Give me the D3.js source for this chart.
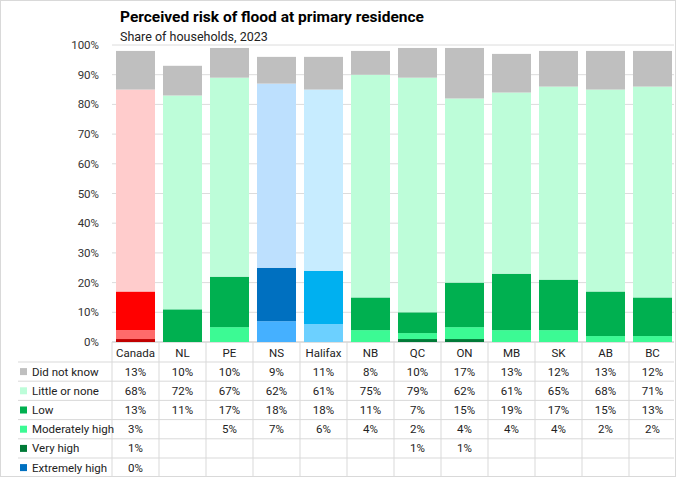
<!DOCTYPE html>
<html>
<head>
<script src="https://d3js.org/d3.v7.min.js"></script>
<style>
body { margin: 0; background: white; font-family: Roboto, Arial, sans-serif; }
</style>
</head>
<body>
<div id="chart"></div>
<script>
// data
const categories = ["Canada", "NL", "PE", "NS", "Halifax", "NB", "QC", "ON", "MB", "SK", "AB", "BC"];
const seriesNames = ["Did not know", "Little or none", "Low", "Moderately high", "Very high", "Extremely high"];
const didNotKnow     = [13, 10, 10, 9, 11, 8, 10, 17, 13, 12, 13, 12];
const littleOrNone   = [68, 72, 67, 62, 61, 75, 79, 62, 61, 65, 68, 71];
const low            = [13, 11, 17, 18, 18, 11, 7, 15, 19, 17, 15, 13];
const moderatelyHigh = [3, null, 5, 7, 6, 4, 2, 4, 4, 4, 2, 2];
const veryHigh       = [1, null, null, null, null, null, 1, 1, null, null, null, null];
const extremelyHigh  = [0, null, null, null, null, null, null, null, null, null, null, null];
const yTicks = [0, 10, 20, 30, 40, 50, 60, 70, 80, 90, 100];

const seriesValues = [didNotKnow, littleOrNone, low, moderatelyHigh, veryHigh, extremelyHigh];

// colours: default green set, some columns have their own
const legendColors = ["#bfbfbf", "#bdfdd9", "#00b050", "#3cfa94", "#007a37", "#0070c0"];
const specialColors = {
  "Canada":  ["#bfbfbf", "#ffcccc", "#ff0000", "#ff6b6b", "#c00000", "#0070c0"],
  "NS":      ["#bfbfbf", "#bde0fe", "#0070c0", "#45b0ff", "#004c87", "#0070c0"],
  "Halifax": ["#bfbfbf", "#c7ecff", "#00b0f0", "#6cd0ff", "#0088c0", "#0070c0"]
};
const colorFor = (cat, si) => (specialColors[cat] || legendColors)[si];

const width = 676, height = 477;
const marginLeft = 112, plotRight = 674, marginTop = 45, plotBottom = 342;

const rows = categories.map((c, i) => {
  const r = {cat: c};
  seriesNames.forEach((s, si) => r[s] = seriesValues[si][i] || 0);
  return r;
});

// stack from bottom (extremely high) to top (did not know)
const stackKeys = seriesNames.slice().reverse();
const stacked = d3.stack().keys(stackKeys)(rows);

const x = d3.scaleBand()
  .domain(categories)
  .range([marginLeft, 676])
  .paddingInner(0.17)
  .paddingOuter(0.085);

const y = d3.scaleLinear()
  .domain([0, 100])
  .range([plotBottom, marginTop]);

const svg = d3.create("svg")
  .attr("width", width)
  .attr("height", height)
  .attr("viewBox", [0, 0, width, height]);

// outer frame
svg.append("rect")
  .attr("x", 0.5).attr("y", 0.5)
  .attr("width", width - 1).attr("height", height - 1)
  .attr("fill", "white").attr("stroke", "#d9d9d9");

// title
svg.append("text")
  .attr("x", 120).attr("y", 22)
  .attr("font-size", 15.5).attr("font-weight", "bold").attr("fill", "#000")
  .text("Perceived risk of flood at primary residence");
svg.append("text")
  .attr("x", 120).attr("y", 41)
  .attr("font-size", 12.5).attr("fill", "#222")
  .text("Share of households, 2023");

// gridlines + y labels
svg.append("g")
  .selectAll("line")
  .data(yTicks)
  .join("line")
    .attr("x1", marginLeft).attr("x2", plotRight)
    .attr("y1", d => y(d)).attr("y2", d => y(d))
    .attr("stroke", d => d === 0 ? "#bfbfbf" : "#dcdcdc");

svg.append("g")
  .selectAll("text")
  .data(yTicks)
  .join("text")
    .attr("x", 99).attr("y", d => y(d) + 4)
    .attr("text-anchor", "end")
    .attr("font-size", 11.5).attr("fill", "#333")
    .text(d => d + "%");

// bars
stacked.forEach(layer => {
  const si = seriesNames.indexOf(layer.key);
  svg.append("g")
    .selectAll("rect")
    .data(layer.filter(d => d[1] > d[0]))
    .join("rect")
      .attr("x", d => x(d.data.cat))
      .attr("width", x.bandwidth())
      .attr("y", d => y(d[1]))
      .attr("height", d => y(d[0]) - y(d[1]))
      .attr("fill", d => colorFor(d.data.cat, si));
});

// data table under the chart
const rowTop = 362, rowH = 19.2;
const table = svg.append("g");
const step = x.step();
const colEdges = d3.range(categories.length + 1).map(i => marginLeft + i * step);

// vertical separators
table.selectAll("line.v")
  .data(colEdges.slice(0, -1))
  .join("line")
    .attr("x1", d => d).attr("x2", d => d)
    .attr("y1", plotBottom).attr("y2", height - 1)
    .attr("stroke", "#d9d9d9");

// horizontal separators
table.selectAll("line.h")
  .data(d3.range(seriesNames.length))
  .join("line")
    .attr("x1", 18).attr("x2", plotRight)
    .attr("y1", d => rowTop + d * rowH).attr("y2", d => rowTop + d * rowH)
    .attr("stroke", "#d9d9d9");

// header
table.selectAll("text.head")
  .data(categories)
  .join("text")
    .attr("x", d => x(d) + x.bandwidth() / 2)
    .attr("y", 357)
    .attr("text-anchor", "middle")
    .attr("font-size", 11.5).attr("fill", "#222")
    .text(d => d);

seriesNames.forEach((s, si) => {
  const cy = rowTop + si * rowH + rowH / 2;
  table.append("rect")
    .attr("x", 20).attr("y", cy - 3.5)
    .attr("width", 7).attr("height", 7)
    .attr("fill", legendColors[si]);
  table.append("text")
    .attr("x", 32).attr("y", cy + 4)
    .attr("font-size", 11.5).attr("fill", "#222")
    .text(s);
  table.append("g")
    .selectAll("text")
    .data(categories.map((c, i) => ({c, v: seriesValues[si][i]})).filter(d => d.v !== null))
    .join("text")
      .attr("x", d => x(d.c) + x.bandwidth() / 2)
      .attr("y", cy + 4)
      .attr("text-anchor", "middle")
      .attr("font-size", 11.5).attr("fill", "#222")
      .text(d => d.v + "%");
});

document.getElementById("chart").appendChild(svg.node());
</script>
</body>
</html>
